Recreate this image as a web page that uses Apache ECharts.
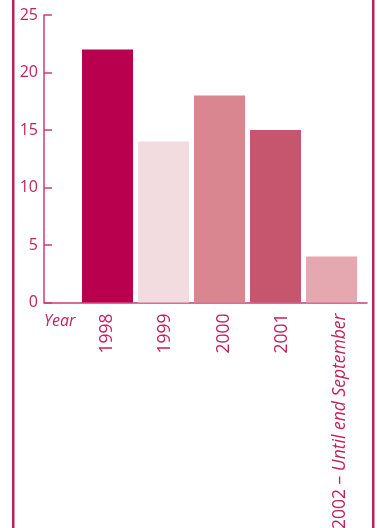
<!DOCTYPE html>
<html><head><meta charset="utf-8">
<style>html,body{margin:0;padding:0;background:#fff;}#c{width:377px;height:528px;}</style>
<script src="https://cdn.jsdelivr.net/npm/echarts@6/dist/echarts.min.js"></script>
</head><body><div id="c"></div>
<script>
const categories = ['1998', '1999', '2000', '2001', '2002'];
const categorySuffix = ['', '', '', '', 'Until end September'];
const values = [22, 14, 18, 15, 4];
const barColors = ['#b8004e', '#f2dce0', '#da8691', '#c6566e', '#e6a8b0'];
const yTicks = [0, 5, 10, 15, 20, 25];
const xTitle = 'Year';

const textColor = '#c0245c';
const axisColor = '#cc3d72';
const font = '"Open Sans", sans-serif';

const chart = echarts.init(document.getElementById('c'), null, {renderer: 'canvas'});
const idx = categories.map((_, i) => i);
chart.setOption({
  animation: false,
  backgroundColor: '#fff',
  grid: {left: 44, right: 10, top: 15, bottom: 225.5, containLabel: false, outerBoundsMode: 'none'},
  xAxis: [{
    type: 'value', min: -1.134, max: 4.634,
    axisLine: {show: true, onZero: false, lineStyle: {color: axisColor, width: 1.5}},
    axisTick: {show: false}, axisLabel: {show: false}, splitLine: {show: false}
  }, {
    type: 'value', min: -1.08, max: 4.46, position: 'bottom',
    axisLine: {show: false, onZero: false}, axisTick: {show: false}, splitLine: {show: false},
    axisLabel: {
      show: true, customValues: idx, rotate: 90, margin: 11,
      color: textColor, fontFamily: font, fontSize: 17.5,
      formatter: v => {
        const i = Math.round(v);
        return categorySuffix[i] ? categories[i] + ' – {it|' + categorySuffix[i] + '}' : categories[i];
      },
      rich: {it: {fontStyle: 'italic', color: textColor, fontFamily: font, fontSize: 17.5}}
    }
  }],
  yAxis: {
    type: 'value', min: 0, max: 25, interval: 5,
    axisLine: {show: true, onZero: false, lineStyle: {color: axisColor, width: 1.5}},
    axisTick: {show: true, inside: true, length: 8, lineStyle: {color: axisColor, width: 1.5}},
    axisLabel: {color: textColor, fontFamily: font, fontSize: 16, margin: 6,
      formatter: v => yTicks.includes(v) ? String(v) : ''},
    splitLine: {show: false}
  },
  series: [{
    type: 'bar', xAxisIndex: 0, yAxisIndex: 0, barWidth: 51,
    data: values.map((v, i) => ({value: [i, v], itemStyle: {color: barColors[i]}}))
  }],
  graphic: [
    {type: 'rect', left: 12, top: 0, shape: {width: 2.5, height: 528}, style: {fill: '#b7245a'}},
    {type: 'rect', left: 372, top: 0, shape: {width: 2.5, height: 528}, style: {fill: '#b7245a'}},
    {type: 'text', left: 44, top: 313, style: {text: xTitle, fill: textColor, font: 'italic 16px "Open Sans", sans-serif'}}
  ]
});
</script></body></html>
